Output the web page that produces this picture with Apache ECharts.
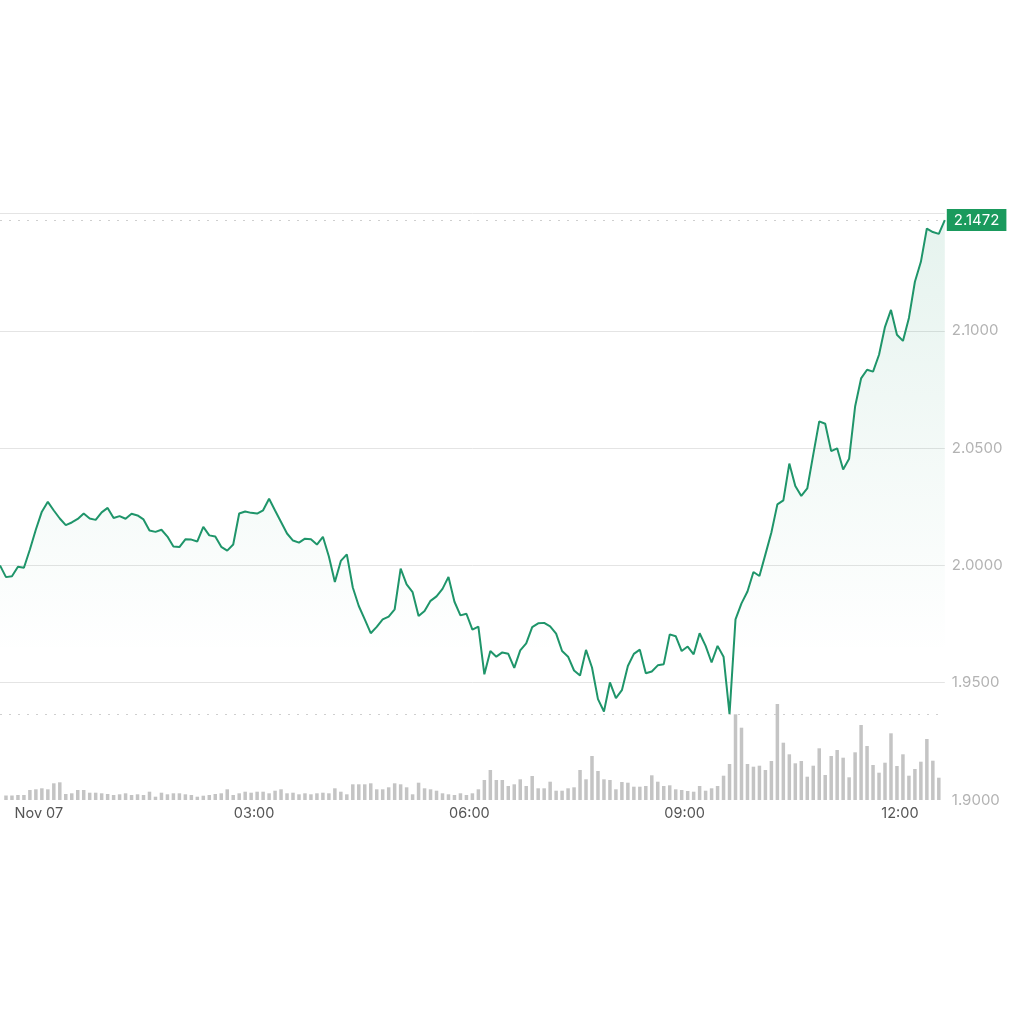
<!DOCTYPE html>
<html>
<head>
<meta charset="utf-8">
<title>Price chart</title>
<script src="https://cdn.jsdelivr.net/npm/echarts@6/dist/echarts.min.js"></script>
<style>
  html, body { margin: 0; padding: 0; background: #fff; }
  #chart { width: 1024px; height: 1024px; }
</style>
</head>
<body>
<div id="chart"></div>
<script>
// 5-minute points, 23:25 (Nov 06) to 12:35 (Nov 07)
const startMinute = 23 * 60 + 25;
const pointCount = 159;

const price = [
  2.0000, 1.9950, 1.9954, 1.9994, 1.9990, 2.0068, 2.0153, 2.0229, 2.0271, 2.0234,
  2.0200, 2.0172, 2.0183, 2.0198, 2.0221, 2.0200, 2.0194, 2.0226, 2.0245, 2.0202,
  2.0210, 2.0199, 2.0220, 2.0213, 2.0196, 2.0149, 2.0143, 2.0152, 2.0123, 2.0081,
  2.0078, 2.0111, 2.0110, 2.0102, 2.0164, 2.0128, 2.0123, 2.0079, 2.0063, 2.0089,
  2.0221, 2.0230, 2.0224, 2.0221, 2.0235, 2.0284, 2.0234, 2.0185, 2.0136, 2.0106,
  2.0097, 2.0114, 2.0111, 2.0089, 2.0122, 2.0038, 1.9929, 2.0019, 2.0047, 1.9906,
  1.9827, 1.9770, 1.9711, 1.9738, 1.9770, 1.9782, 1.9813, 1.9986, 1.9919, 1.9886,
  1.9784, 1.9806, 1.9849, 1.9868, 1.9900, 1.9951, 1.9845, 1.9787, 1.9794, 1.9726,
  1.9739, 1.9536, 1.9635, 1.9611, 1.9629, 1.9623, 1.9563, 1.9638, 1.9668, 1.9737,
  1.9753, 1.9755, 1.9740, 1.9709, 1.9635, 1.9611, 1.9552, 1.9531, 1.9640, 1.9565,
  1.9430, 1.9377, 1.9501, 1.9434, 1.9468, 1.9571, 1.9623, 1.9641, 1.9540, 1.9548,
  1.9574, 1.9579, 1.9706, 1.9698, 1.9635, 1.9654, 1.9621, 1.9711, 1.9657, 1.9586,
  1.9657, 1.9611, 1.9366, 1.9770, 1.9838, 1.9889, 1.9972, 1.9955, 2.0047, 2.0140,
  2.0260, 2.0277, 2.0434, 2.0338, 2.0296, 2.0328, 2.0472, 2.0614, 2.0604, 2.0487,
  2.0499, 2.0409, 2.0455, 2.0677, 2.0797, 2.0834, 2.0826, 2.0898, 2.1017, 2.1089,
  2.0983, 2.0957, 2.1055, 2.1209, 2.1294, 2.1436, 2.1421, 2.1413, 2.1472
];

const volume = [
  null, 45, 45, 50, 50, 100, 107, 117, 107, 167,
  177, 60, 67, 100, 100, 73, 73, 67, 60, 50,
  57, 67, 50, 57, 50, 83, 33, 73, 57, 67,
  67, 57, 50, 33, 43, 50, 60, 67, 107, 50,
  67, 83, 73, 83, 83, 67, 93, 107, 67, 73,
  57, 67, 57, 67, 73, 67, 117, 83, 57, 157,
  157, 157, 167, 107, 107, 127, 167, 157, 127, 57,
  173, 117, 107, 93, 67, 57, 50, 67, 50, 67,
  107, 200, 300, 200, 200, 140, 157, 207, 140, 240,
  117, 117, 183, 93, 93, 117, 127, 300, 207, 440,
  290, 207, 200, 107, 180, 173, 133, 133, 140, 247,
  183, 140, 147, 107, 100, 90, 83, 140, 93, 117,
  140, 243, 360, 857, 723, 360, 333, 343, 300, 390,
  960, 573, 457, 367, 390, 233, 343, 517, 250, 440,
  500, 423, 227, 477, 750, 540, 350, 273, 373, 667,
  340, 457, 243, 310, 383, 610, 393, 223, null
];

const priceTicks = [1.9, 1.95, 2.0, 2.05, 2.1, 2.15];
const axisLabels = { '00:00': 'Nov 07', '03:00': '03:00', '06:00': '06:00', '09:00': '09:00', '12:00': '12:00' };

const times = [];
for (let i = 0; i < pointCount; i++) {
  const m = (startMinute + i * 5) % (24 * 60);
  times.push(String(Math.floor(m / 60)).padStart(2, '0') + ':' + String(m % 60).padStart(2, '0'));
}

const lastPrice = price[price.length - 1];
const lowPrice = Math.min(...price);

const green = '#1f956a';
const fontFamily = 'Inter, Roboto, sans-serif';

const chart = echarts.init(document.getElementById('chart'));

chart.setOption({
  animation: false,
  backgroundColor: '#ffffff',
  grid: [
    { left: -3.2, right: 79.2, top: 213.5, bottom: 224 },
    { left: -3.2, right: 79.2, top: 700, bottom: 224 }
  ],
  xAxis: [
    {
      type: 'category',
      gridIndex: 0,
      data: times,
      boundaryGap: false,
      axisLine: { show: false },
      axisTick: { show: false },
      splitLine: { show: false },
      axisLabel: {
        interval: (index, value) => value in axisLabels,
        formatter: (value) => axisLabels[value] || '',
        color: '#555555',
        fontSize: 14.5,
        fontFamily: fontFamily,
        margin: 6,
        padding: [0, 6, 0, 0]
      }
    },
    {
      type: 'category',
      gridIndex: 1,
      data: times,
      boundaryGap: false,
      show: false
    }
  ],
  yAxis: [
    {
      type: 'value',
      gridIndex: 0,
      position: 'right',
      min: priceTicks[0],
      max: priceTicks[priceTicks.length - 1],
      interval: 0.05,
      axisLine: { show: false },
      axisTick: { show: false },
      splitLine: {
        lineStyle: {
          color: ['transparent', '#e4e4e4', '#e4e4e4', '#e4e4e4', '#e4e4e4', '#e4e4e4'],
          width: 1
        }
      },
      axisLabel: {
        color: '#b3b3b3',
        fontSize: 15,
        fontFamily: fontFamily,
        margin: 7,
        formatter: (v) => (v >= 2.149 ? '' : v.toFixed(4))
      }
    },
    {
      type: 'value',
      gridIndex: 1,
      min: 0,
      max: 1000,
      show: false
    }
  ],
  series: [
    {
      type: 'bar',
      xAxisIndex: 1,
      yAxisIndex: 1,
      data: volume,
      barWidth: 3.5,
      itemStyle: { color: '#c4c4c4' },
      silent: true,
      z: 1
    },
    {
      type: 'line',
      xAxisIndex: 0,
      yAxisIndex: 0,
      data: price,
      showSymbol: false,
      lineStyle: { color: green, width: 2 },
      areaStyle: {
        color: new echarts.graphic.LinearGradient(0, 0, 0, 1, [
          { offset: 0, color: 'rgba(31, 149, 106, 0.16)' },
          { offset: 0.75, color: 'rgba(31, 149, 106, 0)' }
        ])
      },
      markLine: {
        silent: true,
        symbol: 'none',
        precision: 4,
        lineStyle: { color: '#cfcfcf', type: [2, 7], width: 1 },
        data: [
          {
            yAxis: lastPrice,
            label: {
              show: true,
              position: 'end',
              distance: 2,
              formatter: (p) => Number(p.value).toFixed(4),
              color: '#ffffff',
              backgroundColor: '#1a9a5d',
              padding: [4, 7, 3, 7],
              fontSize: 15,
              fontFamily: fontFamily
            }
          },
          { yAxis: lowPrice, label: { show: false } }
        ]
      },
      z: 3
    }
  ]
});
</script>
</body>
</html>
